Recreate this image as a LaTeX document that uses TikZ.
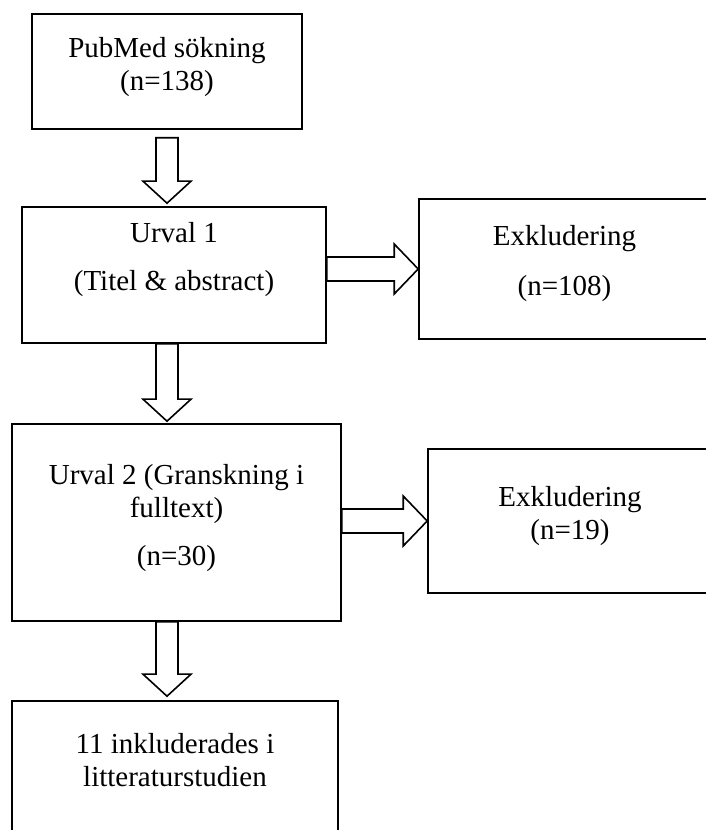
\documentclass[tikz,border=0pt]{standalone}
\usepackage{fontspec}
\setmainfont{Liberation Serif}
\usetikzlibrary{positioning,calc}

\newcommand{\downblock}[2]{%
  \draw[blockarrow] let \p1=#1, \p2=#2 in
    (\x1-11pt,\y1) -- (\x1-11pt,\y2+22pt) -- (\x1-24pt,\y2+22pt) -- (\x1,\y2)
    -- (\x1+24pt,\y2+22pt) -- (\x1+11pt,\y2+22pt) -- (\x1+11pt,\y1) -- cycle;}
\newcommand{\rightblock}[2]{%
  \draw[blockarrow] let \p1=#1, \p2=#2 in
    (\x1,\y2+12pt) -- (\x2-24pt,\y2+12pt) -- (\x2-24pt,\y2+25pt) -- (\x2,\y2)
    -- (\x2-24pt,\y2-25pt) -- (\x2-24pt,\y2-12pt) -- (\x1,\y2-12pt) -- cycle;}

\begin{document}
\begin{tikzpicture}[x=1pt,y=1pt,line width=1.6pt,
  box/.style={draw,rectangle,inner sep=0pt},
  txt/.style={align=center,inner sep=0pt,font=\fontsize{29}{33.4}\selectfont},
  blockarrow/.style={draw,fill=white,line join=miter}]
  \useasboundingbox (0,0) rectangle (706,830);

  \node[box,minimum width=270pt,minimum height=115pt] (pubmed) at (167,758.5) {};
  \node[box,minimum width=304pt,minimum height=136pt] (urval1) at (174,555) {};
  \node[box,minimum width=291pt,minimum height=140pt] (excl1) at (564.5,561) {};
  \node[box,minimum width=329pt,minimum height=197pt] (urval2) at (176.5,307.5) {};
  \node[box,minimum width=284pt,minimum height=144pt] (excl2) at (570,309) {};
  \node[box,minimum width=326pt,minimum height=149pt] (incl) at (175,54.5) {};

  \node[txt,below=23pt of pubmed.north] (pubmed text) {PubMed sökning\\(n=138)};
  \node[txt,below=15pt of urval1.north] (urval1 text) {Urval 1\\[14.6pt](Titel \& abstract)};
  \node[txt,below=26pt of excl1.north] (excl1 text) {Exkludering\\[16.6pt](n=108)};
  \node[txt,below=40pt of urval2.north] (urval2 text) {Urval 2 (Granskning i\\fulltext)\\[14.6pt](n=30)};
  \node[txt,below=37pt of excl2.north] (excl2 text) {Exkludering\\(n=19)};
  \node[txt,below=32pt of incl.north] (incl text) {11 inkluderades i\\litteraturstudien};

  \downblock{($(pubmed.south)+(0,-8)$)}{($(urval1.north -| pubmed.south)+(0,3)$)}
  \downblock{(urval1.south -| pubmed.south)}{($(urval2.north -| pubmed.south)+(0,2)$)}
  \downblock{(urval2.south -| pubmed.south)}{($(incl.north -| pubmed.south)+(0,4)$)}
  \rightblock{(urval1.east)}{(excl1.west)}
  \rightblock{(urval2.east)}{(excl2.west)}
\end{tikzpicture}
\end{document}
